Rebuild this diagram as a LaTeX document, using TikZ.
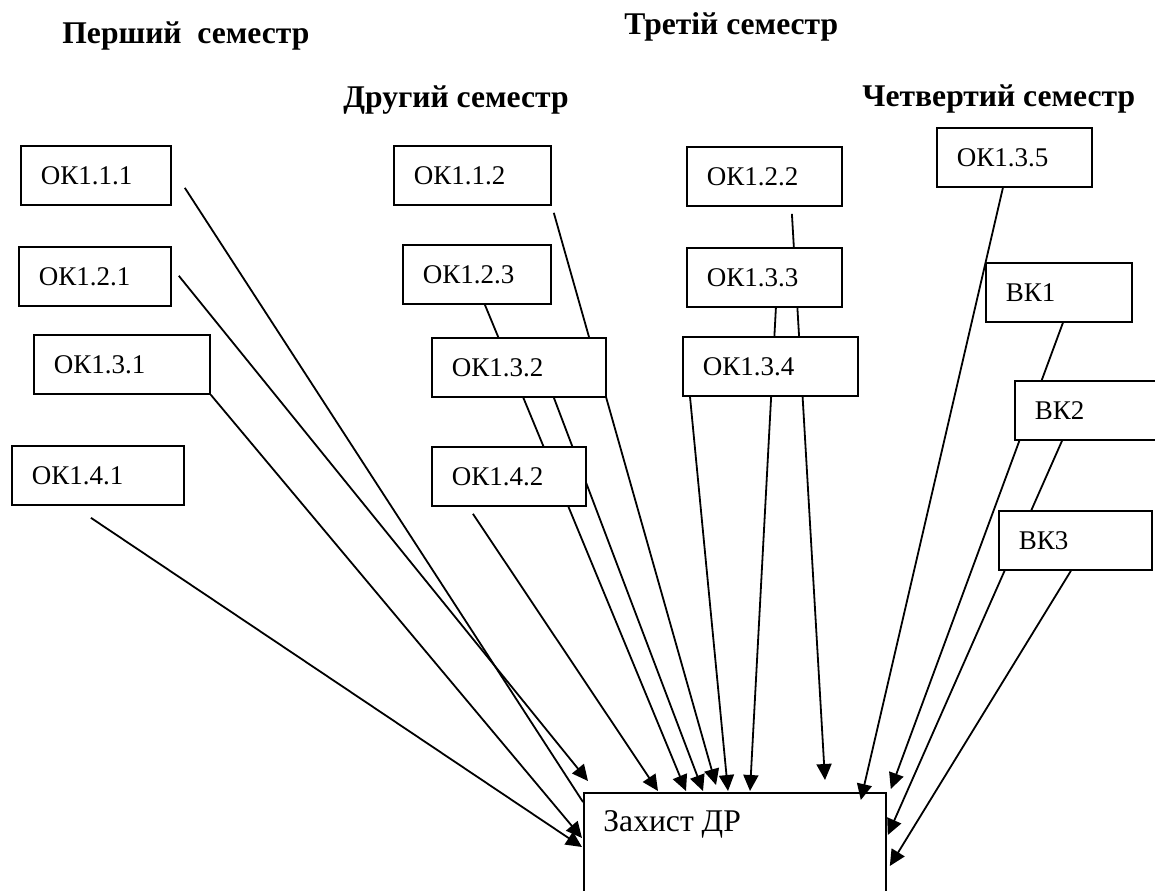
\documentclass[tikz,border=0pt]{standalone}
\usepackage{fontspec}
\setmainfont{Liberation Serif}
\usetikzlibrary{arrows.meta, positioning, calc}
\pgfdeclarelayer{background}
\pgfsetlayers{background,main}

\begin{document}
\begin{tikzpicture}[x=0.5pt, y=-0.5pt,
    box/.style={draw, line width=0.9pt, fill=white, anchor=north west, inner xsep=10pt, inner ysep=0pt,
        minimum height=29.5pt, text width=#1, align=left, font=\fontsize{13.5}{16}\selectfont},
    sem/.style={anchor=base west, inner sep=0pt, font=\fontsize{15.8}{19}\selectfont\bfseries},
    link/.style={line width=0.9pt, -{Triangle[length=8pt, width=7.5pt]}}
]
    \useasboundingbox (0,0) rectangle (1155,890);
    \clip (0,0) rectangle (1155,890);

    % semesters
    \node[sem] (s1) at (62,43) {Перший\ \ семестр};
    \node[sem] (s3) at (624,34) {Третій семестр};
    \node[sem] (s2) at (343,107) {Другий семестр};
    \node[sem] (s4) at (862,106) {Четвертий семестр};

    % first semester
    \node[box=55pt] (ok111) at (20,145) {ОК1.1.1};
    \node[box=56pt] (ok121) at (18,246) {ОК1.2.1};
    \node[box=68pt] (ok131) at (33,334) {ОК1.3.1};
    \node[box=66pt] (ok141) at (11,445) {ОК1.4.1};

    % second semester
    \node[box=58.5pt] (ok112) at (393,145) {ОК1.1.2};
    \node[box=54pt] (ok123) at (402,244) {ОК1.2.3};
    \node[box=67pt] (ok132) at (431,337) {ОК1.3.2};
    \node[box=57pt] (ok142) at (431,446) {ОК1.4.2};

    % third semester
    \node[box=57.5pt] (ok122) at (686,146) {ОК1.2.2};
    \node[box=57.5pt] (ok133) at (686,247) {ОК1.3.3};
    \node[box=67.5pt] (ok134) at (682,336) {ОК1.3.4};

    % fourth semester
    \node[box=57.5pt] (ok135) at (936,127) {ОК1.3.5};
    \node[box=53pt] (bk1) at (985,262) {ВК1};
    \node[box=65pt] (bk2) at (1014,380) {ВК2};
    \node[box=56.5pt] (bk3) at (998,510) {ВК3};

    \node[draw, line width=0.9pt, anchor=north west, inner sep=0pt, minimum width=151pt, minimum height=58pt,
        label={[anchor=base west, inner sep=0pt, xshift=10pt, yshift=-19.5pt, font=\fontsize{15.8}{19}\selectfont]north west:Захист ДР}]
        (zdr) at (583,792) {};

    \begin{pgfonlayer}{background}
    \draw[line width=0.9pt] ($(ok111.south east)+(13,-18)$) -- ($(zdr.north west)+(0,10)$);
    \draw[link] ($(ok121.south east)+(7,-31)$) -- ($(zdr.north west)+(5,-11)$);
    \draw[link] (ok131.south east) -- ($(zdr.north west)+(-1,46)$);
    \draw[link] ($(ok141.south)+(-7,12)$) -- ($(zdr.north west)+(-1,55)$);
    \draw[link] ($(ok142.south)+(-36,7)$) -- ($(zdr.north west)+(75,-1)$);
    \draw[link] ($(ok123.south)+(8,0)$) -- ($(zdr.north west)+(103,-1)$);
    \draw[link] ($(ok132.south)+(35,0)$) -- ($(zdr.north west)+(120,-1)$);
    \draw[link] ($(ok112.south east)+(2,7)$) -- ($(zdr.north west)+(133,-7)$);
    \draw[link] ($(ok134.south west)+(8,0)$) -- ($(zdr.north west)+(145,-1)$);
    \draw[link] ($(ok133.south)+(11.5,0)$) -- ($(zdr.north west)+(167,-1)$);
    \draw[link] ($(ok122.south)+(27.5,7)$) -- ($(zdr.north west)+(242,-12)$);
    \draw[link] ($(ok135.south)+(-11.5,0)$) -- ($(zdr.north east)+(-26,8)$);
    \draw[link] ($(bk1.south)+(4,0)$) -- ($(zdr.north east)+(4,-3)$);
    \draw[link] ($(bk2.south west)+(48,0)$) -- ($(zdr.north east)+(1,43)$);
    \draw[link] ($(bk3.south)+(-4.5,0)$) -- ($(zdr.north east)+(3,74)$);
    \end{pgfonlayer}
\end{tikzpicture}
\end{document}
